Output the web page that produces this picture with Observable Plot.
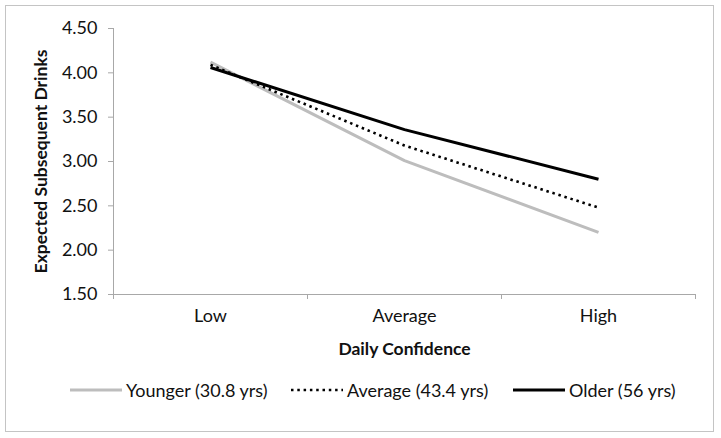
<!DOCTYPE html>
<html>
<head>
<meta charset="utf-8">
<script src="https://cdn.jsdelivr.net/npm/d3@7"></script>
<script src="https://cdn.jsdelivr.net/npm/@observablehq/plot@0.6"></script>
<style>
  html, body { margin: 0; padding: 0; background: #fff; }
  body { width: 721px; height: 438px; position: relative; overflow: hidden; font-family: Lato, "Open Sans", sans-serif; }
  #frame { position: absolute; left: 5px; top: 5px; width: 709px; height: 427px; border: 1px solid #c4c4c4; box-sizing: border-box; }
  #chart { position: absolute; left: 0; top: 0; }
  #chart svg { font-family: Lato, "Open Sans", sans-serif; }
  #chart svg text { font-size: 18px; }
  #chart [aria-label="y-axis label"] text, #chart [aria-label="x-axis label"] text { font-weight: bold; font-size: 17.5px; }
  #legend { position: absolute; left: 0; top: 378px; width: 721px; height: 24px; font-size: 18px; color: #111; white-space: nowrap; }
  #legend .item { position: absolute; top: 0; display: flex; align-items: center; height: 24px; }
  #legend svg { margin-right: 3px; }
</style>
</head>
<body>
<div id="frame"></div>
<div id="chart"></div>
<div id="legend"></div>
<script>
const categories = ["Low", "Average", "High"];
const younger = [4.12, 3.01, 2.20];
const average = [4.09, 3.18, 2.48];
const older = [4.06, 3.36, 2.80];
const seriesNames = ["Younger (30.8 yrs)", "Average (43.4 yrs)", "Older (56 yrs)"];
const yTicks = [1.5, 2.0, 2.5, 3.0, 3.5, 4.0, 4.5];

const seriesStyle = {
  [seriesNames[0]]: {stroke: "#bdbdbd", strokeWidth: 3, dash: null},
  [seriesNames[1]]: {stroke: "#000", strokeWidth: 2.6, dash: "2.5 3.8"},
  [seriesNames[2]]: {stroke: "#000", strokeWidth: 3, dash: null}
};
const legendLeft = [70, 291, 513];

const toRows = (name, vals) => vals.map((v, i) => ({series: name, i, cat: categories[i], value: v}));
const rows = [
  ...toRows(seriesNames[0], younger),
  ...toRows(seriesNames[1], average),
  ...toRows(seriesNames[2], older)
];
const idx = categories.map((_, i) => i);
const edges = [-0.5, ...idx.map(i => i + 0.5)];

const lineMarks = seriesNames.map(name => Plot.line(rows.filter(r => r.series === name), {
  x: "i", y: "value",
  stroke: seriesStyle[name].stroke,
  strokeWidth: seriesStyle[name].strokeWidth,
  strokeDasharray: seriesStyle[name].dash,
  strokeLinecap: "butt"
}));

const chart = Plot.plot({
  width: 721,
  height: 360,
  marginTop: 28,
  marginBottom: 66,
  marginLeft: 113,
  marginRight: 26,
  style: {fontSize: "18px", color: "#111", background: "transparent"},
  x: {type: "linear", domain: [-0.5, categories.length - 0.5]},
  y: {domain: [1.5, 4.5]},
  marks: [
    Plot.axisY({ticks: yTicks, tickFormat: d3.format(".2f"), tickSize: 5, tickPadding: 11, stroke: "#a8a8a8",
      label: "Expected Subsequent Drinks", labelAnchor: "center", labelArrow: "none", labelOffset: 79}),
    Plot.axisX({ticks: edges, tickFormat: () => "", tickSize: 5, stroke: "#a8a8a8", label: null}),
    Plot.axisX({ticks: idx, tickFormat: i => categories[i], tickSize: 0, tickPadding: 15,
      label: "Daily Confidence", labelAnchor: "center", labelArrow: "none", labelOffset: 60}),
    Plot.ruleX([-0.5], {stroke: "#a8a8a8"}),
    Plot.ruleY([1.5], {stroke: "#a8a8a8"}),
    ...lineMarks
  ]
});
document.getElementById("chart").appendChild(chart);

const legend = document.getElementById("legend");
seriesNames.forEach((name, k) => {
  const st = seriesStyle[name];
  const item = document.createElement("div");
  item.className = "item";
  item.style.left = legendLeft[k] + "px";
  const sw = d3.create("svg").attr("width", 53).attr("height", 10);
  sw.append("line").attr("x1", 0).attr("x2", 52).attr("y1", 5).attr("y2", 5)
    .attr("stroke", st.stroke).attr("stroke-width", st.strokeWidth)
    .attr("stroke-dasharray", st.dash);
  item.appendChild(sw.node());
  const t = document.createElement("span");
  t.textContent = name;
  item.appendChild(t);
  legend.appendChild(item);
});
</script>
</body>
</html>
